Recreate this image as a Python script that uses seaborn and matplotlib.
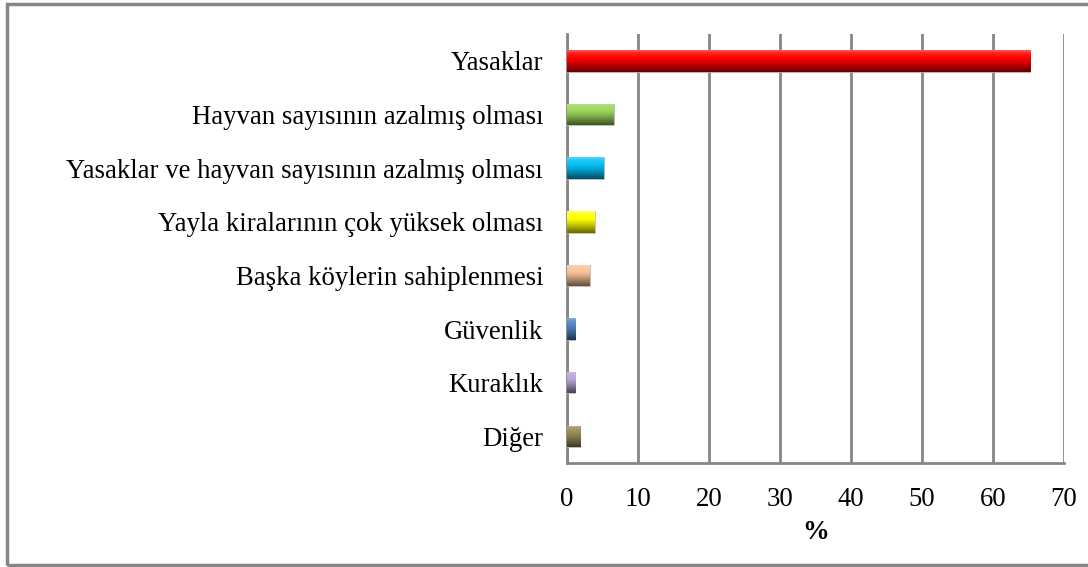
import numpy as np
import pandas as pd
import matplotlib
matplotlib.use("Agg")
import matplotlib.pyplot as plt
import matplotlib.colors as mcolors
import seaborn as sns

# data
categories = [
    "Yasaklar",
    "Hayvan sayısının azalmış olması",
    "Yasaklar ve hayvan sayısının azalmış olması",
    "Yayla kiralarının çok yüksek olması",
    "Başka köylerin sahiplenmesi",
    "Güvenlik",
    "Kuraklık",
    "Diğer",
]
values = [65.2, 6.6, 5.2, 3.9, 3.2, 1.2, 1.2, 1.9]
bar_colors = ["#FF0000", "#9BD55A", "#00BFF5", "#FFFF00",
              "#F9C496", "#4F81BD", "#B9A6D6", "#978C58"]
x_ticks = [0, 10, 20, 30, 40, 50, 60, 70]

df = pd.DataFrame({"kategori": categories, "oran": values})

sns.set_style("white")
plt.rcParams["font.family"] = ["Liberation Serif", "DejaVu Serif"]
plt.rcParams["text.color"] = "black"
plt.rcParams["axes.labelcolor"] = "black"
plt.rcParams["xtick.labelcolor"] = "black"
plt.rcParams["ytick.labelcolor"] = "black"

fig = plt.figure(figsize=(10.88, 5.67), dpi=100)
ax = fig.add_axes([0.521, 0.183, 0.457, 0.757])

sns.barplot(data=df, x="oran", y="kategori", hue="kategori",
            palette=bar_colors, legend=False, orient="h", width=0.4,
            saturation=1, ax=ax, zorder=3)


def gradient_for(color):
    base = np.array(mcolors.to_rgb(color))
    light = base + (1 - base) * 0.35
    dark = base * 0.4
    stops = [0.0, 0.12, 0.35, 0.55, 1.0]
    cols = [light, base + (1 - base) * 0.15, base, base * 0.85, dark]
    t = np.linspace(0, 1, 64)
    img = np.zeros((64, 1, 3))
    for c in range(3):
        img[:, 0, c] = np.interp(t, stops, [col[c] for col in cols])
    return np.clip(img, 0, 1)


# fake the glossy 3D shading of the original bars
for patch, col in zip(ax.patches, bar_colors):
    x0, y0 = patch.get_x(), patch.get_y()
    w, h = patch.get_width(), patch.get_height()
    im = ax.imshow(gradient_for(col), extent=[x0, x0 + w, y0 + h, y0],
                   aspect="auto", origin="upper", zorder=4)
    im.set_clip_path(patch)
    patch.set_edgecolor("#BBBBBB")
    patch.set_linewidth(0.6)

fs = 19.3
ax.set_xlim(0, 70)
ax.set_ylim(len(categories) - 0.5, -0.5)
ax.set_xticks(x_ticks)
ax.set_xticklabels([str(t) for t in x_ticks], fontsize=fs, color="black")
ax.set_yticks(range(len(categories)))
ax.set_yticklabels(categories, fontsize=fs, color="black")
ax.set_yticks(np.arange(-0.5, len(categories), 1.0), minor=True)
ax.tick_params(axis="y", which="major", length=0, pad=17)
ax.tick_params(axis="y", which="minor", length=6, width=1.5,
               color="#868686", direction="out")
ax.tick_params(axis="x", length=6, width=1.5, color="#868686",
               direction="out", pad=11)

ax.grid(axis="x", color="#868686", linewidth=2, zorder=0)
ax.set_axisbelow(True)
for side in ["top", "right"]:
    ax.spines[side].set_visible(False)
for side in ["left", "bottom"]:
    ax.spines[side].set_color("#868686")
    ax.spines[side].set_linewidth(2)

ax.set_ylabel("")
ax.set_xlabel("%", fontsize=fs, fontweight="bold", labelpad=6, color="black")

# outer chart frame
fig.patches.append(plt.Rectangle((0.0066, 0.003), 1.2, 0.99,
                                 transform=fig.transFigure, fill=False,
                                 edgecolor="#868686", linewidth=2.5))

fig.savefig("out.png", dpi=100)
